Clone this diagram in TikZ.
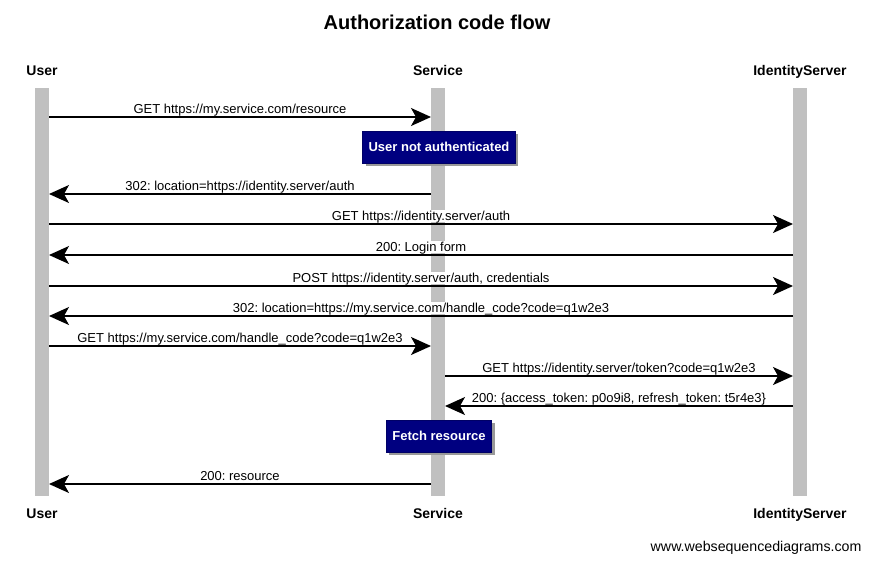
\documentclass[tikz,border=0pt]{standalone}
\usepackage{fontspec}
\setmainfont{Liberation Sans}
\usetikzlibrary{arrows.meta,shadows}
\definecolor{lifegray}{HTML}{C0C0C0}
\definecolor{notenavy}{HTML}{000080}
\frenchspacing

\begin{document}
\begin{tikzpicture}[x=1pt,y=-1pt,
	lifeline/.style={fill=lifegray},
	actor/.style={anchor=base,font=\fontsize{14}{16}\selectfont\bfseries},
	msg/.style={line width=1.5pt,-{Stealth[length=20pt,width=18pt,inset=5pt]}},
	lbl/.style={above,yshift=1pt,fill=white,inner sep=1pt,text depth=0.5pt,font=\fontsize{13}{15}\selectfont},
	note/.style={fill=notenavy,draw=notenavy!80!black,text=white,font=\fontsize{13}{15}\selectfont\bfseries,minimum height=32pt,inner xsep=6pt,drop shadow={shadow xshift=3pt,shadow yshift=-3pt,fill=gray!80,opacity=1}}]
	\useasboundingbox (0,0) rectangle (874,563);

	\node[anchor=base,font=\fontsize{20}{24}\selectfont\bfseries] (title) at (437,29) {Authorization code flow};

	\node[actor] (usertop) at (42,75) {User};
	\node[actor] (servicetop) at (438,75) {Service};
	\node[actor] (identitytop) at (800,75) {IdentityServer};
	\node[actor] (userbot) at (42,518) {User};
	\node[actor] (servicebot) at (438,518) {Service};
	\node[actor] (identitybot) at (800,518) {IdentityServer};

	\fill[lifeline] (35,88) rectangle (49,496);
	\fill[lifeline] (431,88) rectangle (445,496);
	\fill[lifeline] (793,88) rectangle (807,496);

	\foreach \r/\y in {1/117,2/194,3/224,4/255,5/286,6/316,7/346,8/376,9/406,10/484}{
		\coordinate (u\r) at (49,\y);
		\coordinate (sl\r) at (431,\y);
		\coordinate (sr\r) at (445,\y);
		\coordinate (i\r) at (793,\y);
	}

	\draw[msg] (u1) -- node[lbl] {GET https://my.service.com/resource} (sl1);
	\node[note] (notauth) at (439,147) {User not authenticated};
	\draw[msg] (sl2) -- node[lbl] {302: location=https://identity.server/auth} (u2);
	\draw[msg] (u3) -- node[lbl] {GET https://identity.server/auth} (i3);
	\draw[msg] (i4) -- node[lbl] {200: Login form} (u4);
	\draw[msg] (u5) -- node[lbl] {POST https://identity.server/auth, credentials} (i5);
	\draw[msg] (i6) -- node[lbl] {302: location=https://my.service.com/handle\_code?code=q1w2e3} (u6);
	\draw[msg] (u7) -- node[lbl] {GET https://my.service.com/handle\_code?code=q1w2e3} (sl7);
	\draw[msg] (sr8) -- node[lbl] {GET https://identity.server/token?code=q1w2e3} (i8);
	\draw[msg] (i9) -- node[lbl] {200: \{access\_token: p0o9i8, refresh\_token: t5r4e3\}} (sr9);
	\node[note] (fetch) at (439,436) {Fetch resource};
	\draw[msg] (sl10) -- node[lbl] {200: resource} (u10);

	\node[anchor=east,font=\fontsize{14.2}{16}\selectfont] (credit) at (865,548) {www.websequencediagrams.com};
\end{tikzpicture}
\end{document}
